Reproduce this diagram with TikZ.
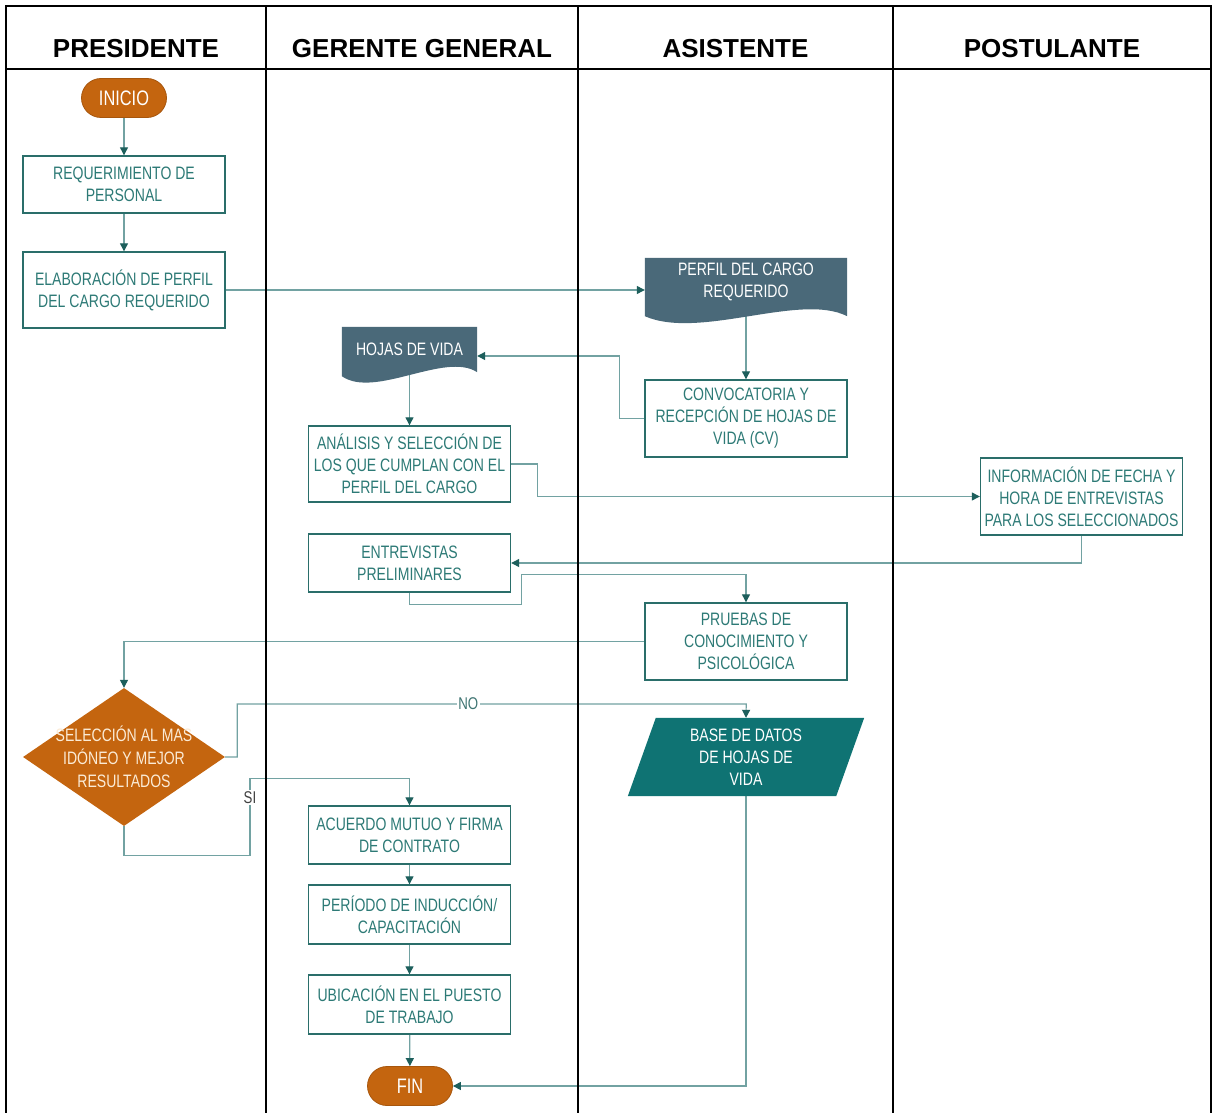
\documentclass[tikz,border=0pt]{standalone}
\usepackage{fontspec}
\setmainfont{Liberation Sans}
\newfontfamily\narrowsans[FakeStretch=0.78]{Liberation Sans}
\usetikzlibrary{arrows.meta,shapes.geometric,calc,backgrounds}
\pgfdeclarelayer{wires}
\pgfdeclarelayer{paper}
\pgfsetlayers{paper,wires,background,main}

\definecolor{boxline}{HTML}{2A6E6A}
\definecolor{boxtext}{HTML}{2D7A76}
\definecolor{wire}{HTML}{72A2A2}
\definecolor{tipc}{HTML}{1D5F5C}
\definecolor{termfill}{HTML}{C4650F}
\definecolor{docfill}{HTML}{4A6979}
\definecolor{datafill}{HTML}{0F7373}
\definecolor{creamtext}{HTML}{FBEBD6}
\definecolor{nocolor}{HTML}{3E7472}

\begin{document}
\begin{tikzpicture}[x=1pt,y=-1pt,
  lanehead/.style={font=\bfseries\fontsize{26}{30}\selectfont, text=black, inner sep=0pt},
  procbox/.style={draw=boxline, line width=1.4pt, fill=white, minimum width=202pt,
    inner sep=0pt, align=center, text=boxtext,
    font=\narrowsans\fontsize{18}{22}\selectfont},
  termbox/.style={fill=termfill, draw=termfill!85!black, line width=0.8pt,
    rounded corners=19.5pt, minimum width=85pt, minimum height=39pt, inner sep=0pt,
    text=white, font=\narrowsans\fontsize{21}{24}\selectfont},
  darktext/.style={inner sep=0pt, align=center, text=white,
    font=\narrowsans\fontsize{18}{22}\selectfont},
  decision/.style={diamond, fill=termfill, inner sep=0pt,
    minimum width=202pt, minimum height=138pt},
  dectext/.style={inner sep=0pt, align=center, text=creamtext,
    font=\narrowsans\fontsize{18}{23}\selectfont},
  conn/.style={draw=wire, line width=1.2pt,
    -{Triangle[length=8pt,width=8pt,color=tipc,fill=tipc]}},
  branchlabel/.style={fill=white, inner sep=1.5pt,
    font=\narrowsans\fontsize{17}{20}\selectfont},
  lane/.style={line width=2pt, draw=black}
]
\useasboundingbox (0,0) rectangle (1216,1113);
\begin{pgfonlayer}{paper}
  \fill[white] (0,0) rectangle (1216,1113);
\end{pgfonlayer}

% ---- lane titles ----
\node[lanehead] (hpres) at (136,49) {PRESIDENTE};
\node[lanehead] (hger)  at (422,49) {GERENTE GENERAL};
\node[lanehead] (hasi)  at (735.5,49) {ASISTENTE};
\node[lanehead] (hpos)  at (1052,49) {POSTULANTE};

% ---- PRESIDENTE ----
\node[termbox] (inicio) at (124,98) {INICIO};
\node[procbox, minimum height=57pt] (req) at (124,184.5) {REQUERIMIENTO DE\\PERSONAL};
\node[procbox, minimum height=76pt] (elab) at (124,290) {ELABORACIÓN DE PERFIL\\DEL CARGO REQUERIDO};
\node[decision] (dec) at (124,757) {};
\node[dectext] (dectxt) at (dec.center) {SELECCIÓN AL MAS\\IDÓNEO Y MEJOR\\RESULTADOS};

% ---- GERENTE GENERAL ----
\node[darktext, minimum width=135pt, minimum height=44pt] (hojas) at (409.5,349) {HOJAS DE VIDA};
\node[procbox, minimum height=76pt] (anal) at (409.5,464) {ANÁLISIS Y SELECCIÓN DE\\LOS QUE CUMPLAN CON EL\\PERFIL DEL CARGO};
\node[procbox, minimum height=58pt] (entr) at (409.5,563) {ENTREVISTAS\\PRELIMINARES};
\node[procbox, minimum height=58pt] (acue) at (409.5,835) {ACUERDO MUTUO Y FIRMA\\DE CONTRATO};
\node[procbox, minimum height=59pt] (peri) at (409.5,914.5) {PERÍODO DE INDUCCIÓN/\\CAPACITACIÓN};
\node[procbox, minimum height=59pt] (ubic) at (409.5,1004.5) {UBICACIÓN EN EL PUESTO\\DE TRABAJO};
\node[termbox] (fin) at (410,1086) {FIN};

% ---- ASISTENTE ----
\node[darktext, minimum width=202pt, minimum height=48pt] (perfil) at (746,282) {PERFIL DEL CARGO\\REQUERIDO};
\node[procbox, minimum height=77pt] (conv) at (746,418.5) {CONVOCATORIA Y\\RECEPCIÓN DE HOJAS DE\\VIDA (CV)};
\node[procbox, minimum height=77pt] (prue) at (746,641.5) {PRUEBAS DE\\CONOCIMIENTO Y\\PSICOLÓGICA};
\node[darktext, minimum width=236pt, minimum height=78pt] (base) at (746,757) {BASE DE DATOS\\DE HOJAS DE\\VIDA};

% ---- POSTULANTE ----
\node[procbox, minimum height=77pt] (info) at (1081.5,496.5) {INFORMACIÓN DE FECHA Y\\HORA DE ENTREVISTAS\\PARA LOS SELECCIONADOS};

% ---- document and data shapes ----
\begin{scope}[on background layer]
  \fill[docfill] (perfil.north west) -- (perfil.north east)
    -- ($(perfil.south east)+(0,10)$)
    .. controls ($(perfil.south east)+(-47,-14)$) and ($(perfil.south west)+(55,34)$)
    .. ($(perfil.south west)+(0,10)$) -- cycle;
  \fill[docfill] (hojas.north west) -- (hojas.north east)
    -- ($(hojas.south east)+(0,1)$)
    .. controls ($(hojas.south east)+(-32,-20)$) and ($(hojas.south west)+(33,28)$)
    .. ($(hojas.south west)+(0,5)$) -- cycle;
  \fill[datafill] ($(base.north west)+(28,0)$) -- (base.north east)
    -- ($(base.south east)+(-28,0)$) -- (base.south west) -- cycle;
\end{scope}

% ---- connectors ----
\begin{pgfonlayer}{wires}
\draw[conn] (inicio) -- (req);
\draw[conn] (req) -- (elab);
\draw[conn] (elab.east) -- (elab.east -| perfil.west);
\draw[conn] (perfil.south) -- (conv.north);
\draw[conn] (conv.west) -- ++(-25,0) |- ([yshift=-7pt]hojas.east);
\draw[conn] (hojas.south) -- (anal.north);
\draw[conn] (anal.east) -- ++(26,0) |- (info.west);
\draw[conn] (info.south) |- (entr.east);
\draw[conn] (entr.south) -- ++(0,12) -- ++(112,0) -- ++(0,-30) -| (prue.north);
\draw[conn] (prue.west) -| (dec.north);
\draw[conn] (dec.east) -- ++(12,0) -- ++(0,-53)
  -- node[pos=0.454, branchlabel, text=nocolor] {NO} ++(509,0) -- (base.north);
\draw[conn] (dec.south) -- ++(0,29) -- ++(126,0)
  -- node[pos=0.75, branchlabel, text=black!75] {SI} ++(0,-77) -| (acue.north);
\draw[conn] (acue) -- (peri);
\draw[conn] (peri) -- (ubic);
\draw[conn] (ubic) -- (fin);
\draw[conn] (base.south) |- (fin.east);
\end{pgfonlayer}

% ---- swimlane grid ----
\draw[lane] (6,6) rectangle (1211,1118);
\draw[lane] (6,69) -- (1211,69);
\foreach \x in {266,578,893} \draw[lane] (\x,6) -- (\x,1118);
\end{tikzpicture}
\end{document}
